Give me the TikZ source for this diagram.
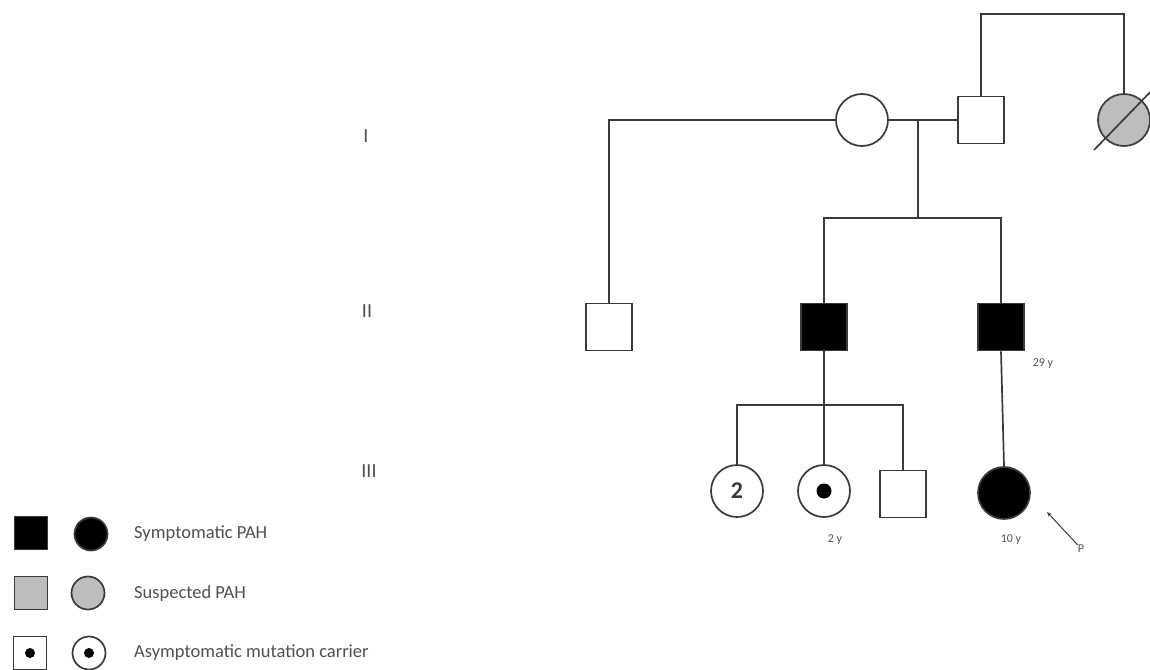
\documentclass[tikz,border=0pt]{standalone}
\usepackage{fontspec}
\setmainfont{Carlito}
\usetikzlibrary{arrows.meta}
\definecolor{ln}{HTML}{3A3A3A}
\definecolor{tx}{HTML}{505050}
\definecolor{sus}{HTML}{BDBDBD}
\tikzset{
  x=1pt, y=-1pt,
  line/.style={draw=ln, line width=1.7pt},
  male/.style={rectangle, draw=ln, line width=1.7pt, minimum width=46pt, minimum height=47pt, inner sep=0pt, fill=white},
  female/.style={circle, draw=ln, line width=1.7pt, minimum size=52pt, inner sep=0pt, fill=white},
  lmale/.style={male, minimum width=33pt, minimum height=33pt},
  lfemale/.style={female, minimum size=33pt},
  affected/.style={fill=black},
  suspected/.style={fill=sus},
  gen/.style={text=tx, font=\fontsize{20}{20}\selectfont, inner sep=0pt},
  age/.style={text=tx, font=\fontsize{12}{12}\selectfont, inner sep=0pt},
  legtext/.style={text=tx, font=\fontsize{18.5}{18.5}\selectfont, inner sep=0pt, anchor=west},
  carrierdot/.style={circle, fill=black, minimum size=#1, inner sep=0pt}
}
\begin{document}
\begin{tikzpicture}
\useasboundingbox (0,0) rectangle (1150,669);
\clip (0,0) rectangle (1150,669);

% generation numbers
\node[gen] (gI)   at (366,136) {I};
\node[gen] (gII)  at (367,311) {II};
\node[gen] (gIII) at (369,471) {III};

% generation I
\node[female] (mom) at (862,120) {};
\node[male]   (dad) at (981,120) {};
\node[female, suspected] (gm) at (1124,120) {};
\draw[line] (1094,150) -- (1160,82);

% generation II
\node[male] (ii1) at (609,327) {};
\node[male, affected] (ii2) at (824,327) {};
\node[male, affected] (ii3) at (1001,327) {};
\node[age] (a29) at (1043,364) {29 y};

% generation III
\node[female] (iii1) at (737,491) {\fontsize{24}{24}\selectfont\bfseries\color{ln}2};
\node[female] (iii2) at (824,491) {};
\node[carrierdot=15pt] (iii2dot) at (iii2.center) {};
\node[male] (iii3) at (903,494) {};
\node[female, affected] (iii4) at (1004,493) {};
\node[age] (a2)  at (835,540) {2 y};
\node[age] (a10) at (1011,540) {10 y};
\node[age] (prob) at (1081,549) {P};
\coordinate (ptip) at (1047,512);

% connectors
\coordinate (m1) at (918,120);
\coordinate (s1) at (918,218);
\coordinate (top) at (1050,14);
\coordinate (s2) at (824,405);
\draw[line] (mom.east) -- (dad.west);
\draw[line] (mom.west) -| (ii1.north);
\draw[line] (dad.north) |- (top) -| (gm.north);
\draw[line] (m1) -- (s1);
\draw[line] (ii2.north) |- (s1) -| (ii3.north);
\draw[line] (ii2.south) -- (s2);
\draw[line] (iii1.north) |- (s2) -| (iii3.north);
\draw[line] (s2) -- (iii2.north);
\draw[line] (ii3.south) -- (iii4.north);
\draw[draw=ln, line width=1pt, -{Stealth[length=5pt,width=4pt]}] (prob.north west) -- (ptip);

% legend
\node[lmale, affected] (l1s) at (31,533) {};
\node[lfemale, affected] (l1c) at (91,534) {};
\node[legtext] (l1t) at (134,534) {Symptomatic PAH};
\node[lmale, suspected] (l2s) at (31,593) {};
\node[lfemale, suspected] (l2c) at (88,593) {};
\node[legtext] (l2t) at (134,594) {Suspected PAH};
\node[lmale] (l3s) at (30,653) {};
\node[carrierdot=10pt] (l3sd) at (l3s.center) {};
\node[lfemale] (l3c) at (89,653) {};
\node[carrierdot=10pt] (l3cd) at (l3c.center) {};
\node[legtext] (l3t) at (134,653) {Asymptomatic mutation carrier};
\end{tikzpicture}
\end{document}
